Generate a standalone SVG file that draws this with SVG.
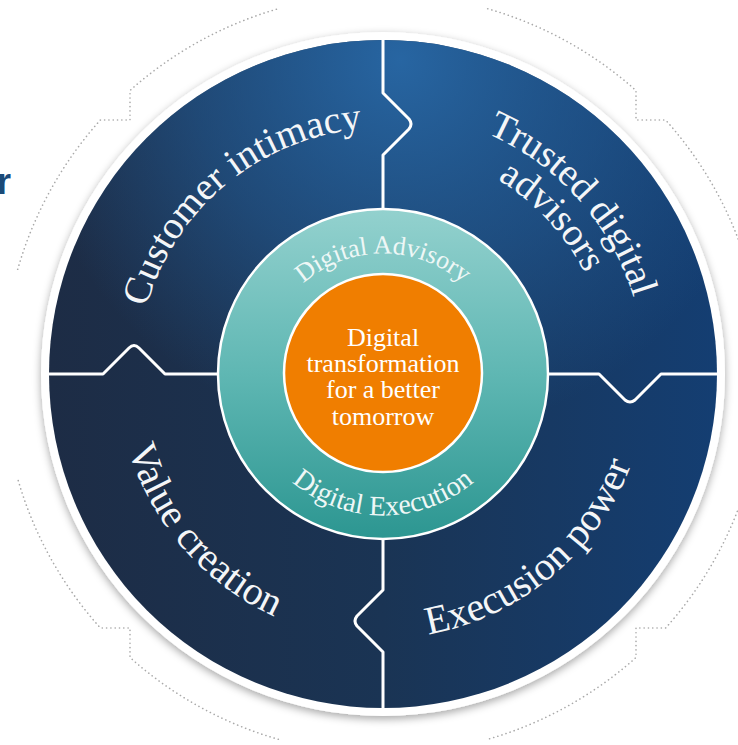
<svg xmlns="http://www.w3.org/2000/svg" width="738" height="745" viewBox="0 0 738 745">
  <defs>
    <style>
      .dots { fill: none; stroke: #a9a9a9; stroke-width: 1.6; stroke-dasharray: 0.1 4.2; stroke-linecap: round; }
      .seam { fill: none; stroke: #ffffff; stroke-width: 3; stroke-linejoin: round; stroke-linecap: butt; }
      .ring-label { font-family: "Liberation Serif", "DejaVu Serif", serif; fill: #f4f6f8; font-size: 39px; }
      .ring-label-low { font-family: "Liberation Serif", "DejaVu Serif", serif; fill: #f4f6f8; font-size: 40px; }
      .inner-label { font-family: "Liberation Serif", "DejaVu Serif", serif; fill: #eef7f6; }
      .core-label { font-family: "Liberation Serif", "DejaVu Serif", serif; fill: #ffffff; font-size: 26px; text-anchor: middle; }
    </style>
    <filter id="shadow" x="-10%" y="-10%" width="120%" height="120%">
      <feDropShadow dx="0" dy="3" stdDeviation="4" flood-color="#000000" flood-opacity="0.35"/>
    </filter>
    <linearGradient id="diskBase" x1="0" y1="0" x2="1" y2="0">
      <stop offset="0" stop-color="#1d2c45"/>
      <stop offset="0.5" stop-color="#1a3454"/>
      <stop offset="1" stop-color="#143e72"/>
    </linearGradient>
    <radialGradient id="diskGlow" gradientUnits="userSpaceOnUse" cx="400" cy="60" r="380">
      <stop offset="0" stop-color="#2868a6" stop-opacity="0.95"/>
      <stop offset="0.55" stop-color="#2462a0" stop-opacity="0.5"/>
      <stop offset="1" stop-color="#2462a0" stop-opacity="0"/>
    </radialGradient>
    <linearGradient id="teal" x1="0" y1="0" x2="0" y2="1">
      <stop offset="0" stop-color="#93d1ce"/>
      <stop offset="0.5" stop-color="#5fb7b3"/>
      <stop offset="1" stop-color="#2c9691"/>
    </linearGradient>
    <!-- text baselines: arcs around the disk centre (383,374) -->
    <path id="arcTL" d="M179.3,512.0 A246,246 0 0 1 556.9,200.1"/>
    <path id="arcTR1" d="M221.8,166.4 A263,263 0 0 1 571.6,557.3"/>
    <path id="arcTR2" d="M244.4,196.7 A225,225 0 0 1 550.2,524.6"/>
    <path id="arcBL" d="M191.2,187.9 A268,268 0 0 0 541.0,590.8"/>
    <path id="arcBR" d="M193.2,562.9 A268,268 0 0 0 602.1,220.7"/>
    <path id="arcTop" d="M262.5,363.5 A121,121 0 0 1 503.5,363.5"/>
    <path id="arcBottom" d="M242.5,386.3 A141,141 0 0 0 523.5,386.3"/>
  </defs>

  <rect width="738" height="745" fill="#ffffff"/>

  <!-- clipped heading fragment at the left margin -->
  <text x="-3" y="194" font-family="'Liberation Sans', Arial, sans-serif" font-size="36" font-weight="bold" fill="#1b4a78">r</text>

  <!-- dotted outer cog outline, four segments -->
  <g id="outline">
    <path class="dots" d="M17.7,269.3 A380,380 0 0 1 100.4,120 L130,120 L130,90.5 A380,380 0 0 1 278.3,8.7"/>
    <path class="dots" d="M487.7,8.7 A380,380 0 0 1 636,90.5 L636,120 L665.6,120 A380,380 0 0 1 748.3,269.3"/>
    <path class="dots" d="M748.3,478.7 A380,380 0 0 1 665.6,628 L636,628 L636,657.5 A380,380 0 0 1 487.7,739.3"/>
    <path class="dots" d="M278.3,739.3 A380,380 0 0 1 130,657.5 L130,628 L100.4,628 A380,380 0 0 1 17.7,478.7"/>
  </g>

  <!-- main disk -->
  <g id="disk">
    <circle cx="383" cy="374" r="342" fill="#ffffff" filter="url(#shadow)"/>
    <circle cx="383" cy="374" r="334" fill="url(#diskBase)"/>
    <circle cx="383" cy="374" r="334" fill="url(#diskGlow)"/>
  </g>

  <!-- puzzle seams between the quadrants -->
  <g id="connectors">
    <path class="seam" d="M383,40 L383,93 L409,119 Q413,124 409,129 L383,155 L383,210"/>
    <path class="seam" d="M548,374 L599,374 L625,400 Q630,404 635,400 L661,374 L717,374"/>
    <path class="seam" d="M383,538 L383,590 L357,616 Q353,621 357,626 L383,652 L383,708"/>
    <path class="seam" d="M49,374 L103,374 L129,348 Q134,343 139,348 L165,374 L218,374"/>
  </g>

  <g id="customer-intimacy">
    <text class="ring-label"><textPath href="#arcTL" startOffset="50%" text-anchor="middle">Customer intimacy</textPath></text>
  </g>
  <g id="trusted-digital-advisors">
    <text class="ring-label"><textPath href="#arcTR1" startOffset="50%" text-anchor="middle">Trusted digital</textPath></text>
    <text class="ring-label"><textPath href="#arcTR2" startOffset="50%" text-anchor="middle">advisors</textPath></text>
  </g>
  <g id="value-creation">
    <text class="ring-label-low"><textPath href="#arcBL" startOffset="50%" text-anchor="middle">Value creation</textPath></text>
  </g>
  <g id="execusion-power">
    <text class="ring-label-low"><textPath href="#arcBR" startOffset="50%" text-anchor="middle">Execusion power</textPath></text>
  </g>

  <!-- teal ring -->
  <g id="digital-ring">
    <circle cx="383" cy="374" r="165" fill="url(#teal)" stroke="#ffffff" stroke-width="2.5"/>
    <text class="inner-label" font-size="26"><textPath href="#arcTop" startOffset="50%" text-anchor="middle">Digital Advisory</textPath></text>
    <text class="inner-label" font-size="28"><textPath href="#arcBottom" startOffset="50%" text-anchor="middle">Digital Execution</textPath></text>
  </g>

  <!-- orange core -->
  <g id="core">
    <circle cx="383" cy="373" r="99" fill="#f07e00" stroke="#ffffff" stroke-width="2.5"/>
    <text class="core-label" x="383" y="346">Digital</text>
    <text class="core-label" x="383" y="372">transformation</text>
    <text class="core-label" x="383" y="398">for a better</text>
    <text class="core-label" x="383" y="425">tomorrow</text>
  </g>
</svg>
